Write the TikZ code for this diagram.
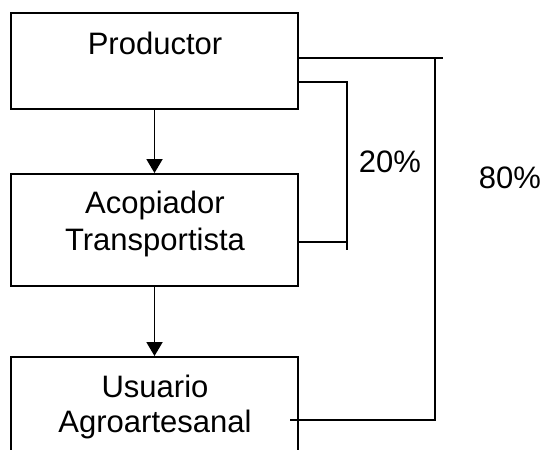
\documentclass[tikz,border=0pt]{standalone}
\usepackage{fontspec}
\setmainfont{Liberation Sans}
\usetikzlibrary{arrows.meta}
\begin{document}
\begin{tikzpicture}[x=1pt,y=1pt,
  box/.style={draw,line width=1.9pt,rectangle,inner sep=0pt,minimum width=287pt},
  lbl/.style={anchor=base,inner sep=0pt,font=\fontsize{31}{36}\selectfont},
  conn/.style={line width=1.9pt},
  arr/.style={line width=1.9pt,-{Triangle[width=16pt,length=14pt]}}]
\useasboundingbox (0,0) rectangle (544,-450);
\clip (0,0) rectangle (544,-450);
% boxes
\node[box,minimum height=96pt] (prod) at (154.5,-61) {};
\node[box,minimum height=112pt] (acop) at (154.5,-230) {};
\node[box,minimum height=130pt] (usu) at (154.5,-422) {};
% texts
\node[lbl] (tprod) at (155,-54) {Productor};
\node[lbl] (tacop1) at (155,-213) {Acopiador};
\node[lbl] (tacop2) at (155,-250) {Transportista};
\node[lbl] (tusu1) at (155,-397) {Usuario};
\node[lbl] (tusu2) at (155,-432) {Agroartesanal};
\node[lbl] (p20) at (390,-172) {20\%};
\node[lbl] (p80) at (510,-188) {80\%};
% arrows
\draw[arr] (prod.south) -- (acop.north);
\draw[arr] (acop.south) -- (usu.north);
% 80% connector
\coordinate (e80) at (443,-58);
\coordinate (r80) at (435,-58);
\coordinate (b80) at (435,-420);
\coordinate (u80) at (290,-420);
\draw[conn] (prod.east |- e80) -- (e80);
\draw[conn] (r80) -- (b80) -- (u80);
% 20% connector
\coordinate (t20) at (347,-82);
\coordinate (b20) at (347,-250);
\coordinate (m20) at (347,-242);
\draw[conn] (prod.east |- t20) -- (t20) -- (b20);
\draw[conn] (acop.east |- m20) -- (m20);
\end{tikzpicture}
\end{document}
